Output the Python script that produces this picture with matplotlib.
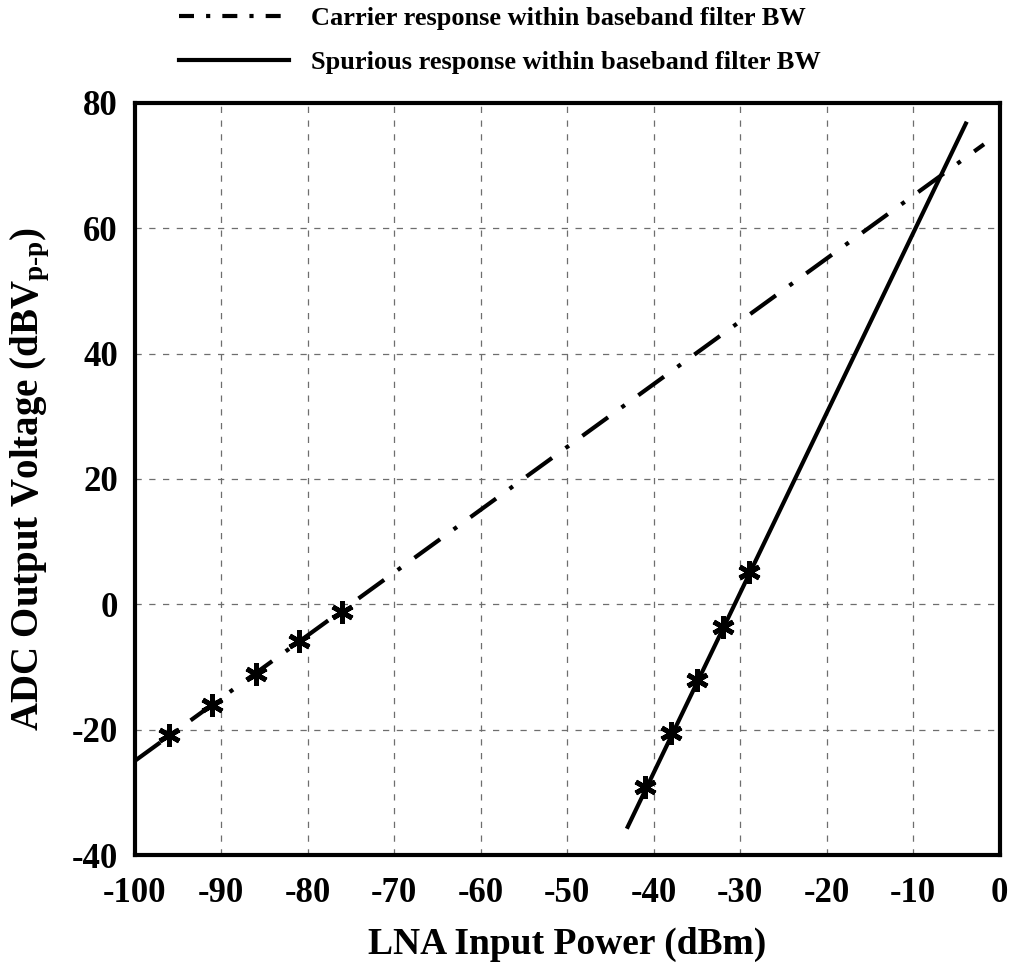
import matplotlib
matplotlib.use('Agg')
import matplotlib.pyplot as plt
from matplotlib.lines import Line2D

# carrier (fitted line + measured points)
carrier_fit_x = [-100, -1.8]
carrier_fit_y = [-25, 73.4]
carrier_pts_x = [-96, -91, -86, -81, -76]
carrier_pts_y = [-20.8, -16.0, -11.1, -5.8, -1.2]

# spurious (fitted line + measured points)
spur_fit_x = [-43.1, -3.8]
spur_fit_y = [-35.8, 77.0]
spur_pts_x = [-41, -38, -35, -32, -29]
spur_pts_y = [-29.1, -20.5, -12.0, -3.6, 5.2]

xticks = [-100, -90, -80, -70, -60, -50, -40, -30, -20, -10, 0]
yticks = [-40, -20, 0, 20, 40, 60, 80]

legend_labels = ['Carrier response within baseband filter BW',
                 'Spurious response within baseband filter BW']

plt.rcParams['font.family'] = ['Liberation Serif', 'DejaVu Serif']
plt.rcParams['font.weight'] = 'bold'
plt.rcParams['axes.unicode_minus'] = False
plt.rcParams['mathtext.fontset'] = 'custom'
plt.rcParams['mathtext.rm'] = 'Liberation Serif:bold'
plt.rcParams['mathtext.it'] = 'Liberation Serif:bold'
plt.rcParams['mathtext.bf'] = 'Liberation Serif:bold'

fg = plt.figure(figsize=(10.2, 9.68), dpi=100)
ax = fg.add_axes([0.132, 0.1167, 0.848, 0.777])

lw = 3.0
dashdot = (0, (7.6, 4.0, 1.0, 4.0))
dashdot_leg = (0, (3.6, 2.9, 1.0, 2.9))
mk = dict(marker=(6, 2, 0), markersize=16, markeredgewidth=3.5, color='black', linestyle='none')

ax.plot(carrier_fit_x, carrier_fit_y, color='black', lw=lw, linestyle=dashdot,
        dash_capstyle='butt')
ax.plot(carrier_pts_x, carrier_pts_y, **mk)
ax.plot(spur_fit_x, spur_fit_y, color='black', lw=lw, linestyle='-',
        solid_capstyle='butt')
ax.plot(spur_pts_x, spur_pts_y, **mk)

ax.set_xlim(-100, 0)
ax.set_ylim(-40, 80)
ax.set_xticks(xticks)
ax.set_yticks(yticks)
ax.tick_params(length=0, labelsize=25)
ax.tick_params(axis='x', pad=16)
ax.tick_params(axis='y', pad=12)
for lab in ax.get_xticklabels() + ax.get_yticklabels():
    lab.set_fontweight('bold')
ax.grid(True, color='#6e6e6e', linestyle=(0, (5, 6)), linewidth=0.9)
for s in ax.spines.values():
    s.set_linewidth(3)

ax.set_xlabel('LNA Input Power (dBm)', fontsize=27, fontweight='bold', labelpad=12)
ax.set_ylabel(r'ADC Output Voltage (dBV$_{\text{p-p}}$)', fontsize=28,
              fontweight='bold')
ax.yaxis.set_label_coords(-0.095, 0.5)

handles = [Line2D([], [], color='black', lw=lw, linestyle=dashdot_leg, dash_capstyle='butt'),
           Line2D([], [], color='black', lw=lw)]
fg.legend(handles, legend_labels, loc='upper center', bbox_to_anchor=(0.49, 1.018),
          frameon=False, handlelength=4.2, handletextpad=0.83,
          labelspacing=0.8, prop={'weight': 'bold', 'size': 19})

fg.savefig('out.png', dpi=100)
